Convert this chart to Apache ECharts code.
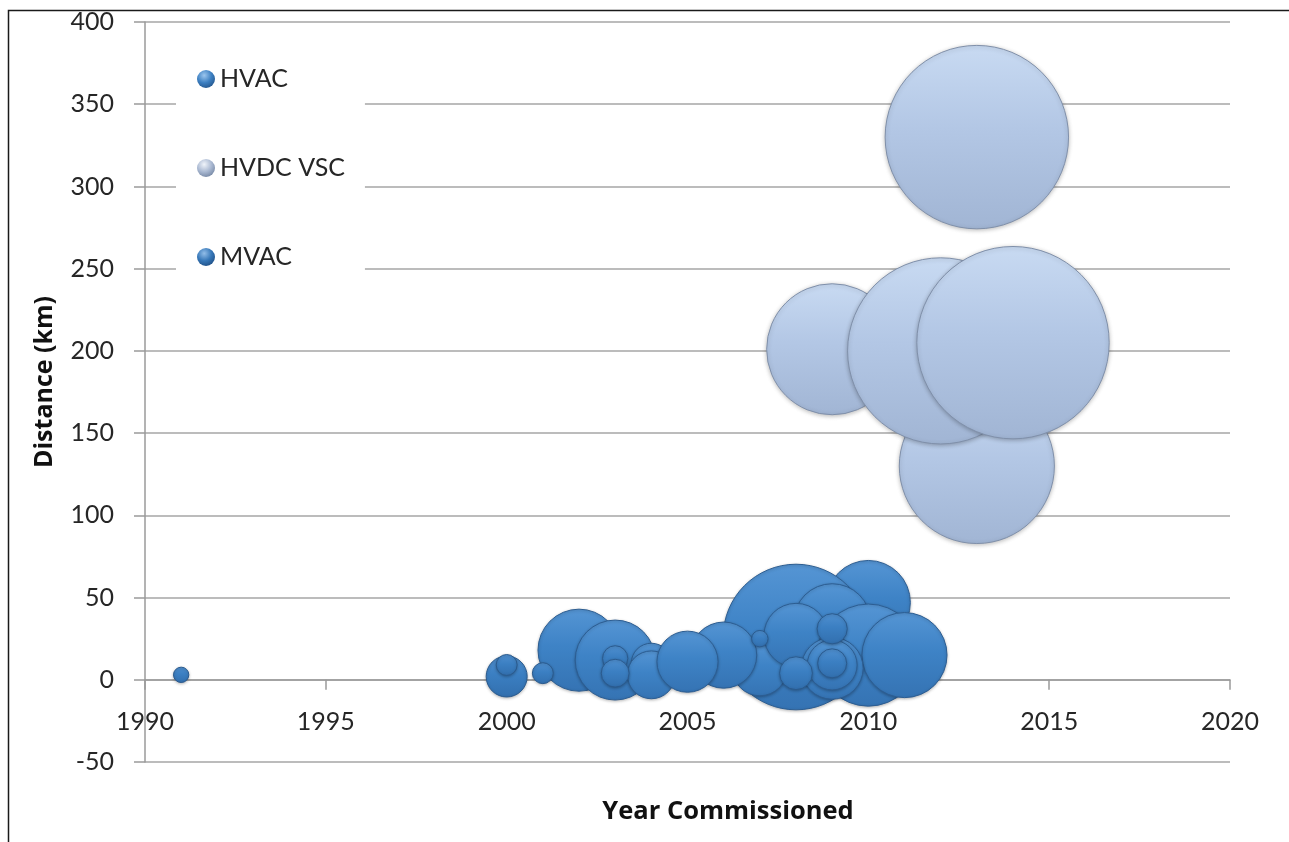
<!DOCTYPE html>
<html>
<head>
<meta charset="utf-8">
<script src="https://cdn.jsdelivr.net/npm/echarts@6/dist/echarts.min.js"></script>
<style>
html,body{margin:0;padding:0;background:#fff;}
#chart{width:1289px;height:842px;}
</style>
</head>
<body>
<div id="chart"></div>
<script>
// ---- data (year commissioned, distance km, capacity MW) ----
const xTicks = [1990, 1995, 2000, 2005, 2010, 2015, 2020];
const yTicks = [-50, 0, 50, 100, 150, 200, 250, 300, 350, 400];

const hvacYear = [2002, 2003, 2004, 2004, 2010, 2008, 2007, 2006, 2005, 2009, 2008, 2010, 2011, 2009, 2009];
const hvacDist = [18, 12, 10, 3, 47, 26, 7, 15, 11, 35, 27, 15, 15, 7, 9];
const hvacCap  = [200, 190, 48, 68, 210, 630, 90, 130, 111, 176, 122, 310, 215, 114, 74];

const vscYear = [2009, 2013, 2012, 2014, 2013];
const vscDist = [201, 130, 200, 205, 330];
const vscCap  = [510, 715, 1030, 1100, 1000];

const mvacYear = [1991, 2000, 2000, 2001, 2003, 2003, 2007, 2008, 2009, 2009];
const mvacDist = [3, 2, 9, 4, 13, 4, 25, 4, 31, 10];
const mvacCap  = [7, 50, 13, 13, 19, 23, 8, 32, 27, 25];

const seriesNames = ['HVAC', 'HVDC VSC', 'MVAC'];
const xTitle = 'Year Commissioned';
const yTitle = 'Distance (km)';

function zip(a, b, c) { return a.map((v, i) => [v, b[i], c[i]]); }

const SIZE_K = 5.8;
const FONT = 'Lato, "Open Sans", sans-serif';
const TFONT = '"Open Sans", Lato, sans-serif';

function lin(c0, c1, c2) {
  return new echarts.graphic.LinearGradient(0, 0, 0, 1, [
    {offset: 0, color: c0}, {offset: 0.45, color: c1}, {offset: 1, color: c2}
  ]);
}
function rad(c0, c1, c2) {
  return new echarts.graphic.RadialGradient(0.4, 0.3, 0.75, [
    {offset: 0, color: c0}, {offset: 0.55, color: c1}, {offset: 1, color: c2}
  ]);
}

const blueStyle = {
  color: lin('#5595d4', '#3e83c6', '#3573b3'), opacity: 1,
  borderColor: '#2c5d92', borderWidth: 1,
  shadowColor: 'rgba(0,0,0,0.25)', shadowBlur: 3, shadowOffsetY: 1
};
const mvStyle = {
  color: lin('#5090d0', '#3b7fc2', '#326fae'), opacity: 1,
  borderColor: '#2a5a8e', borderWidth: 1,
  shadowColor: 'rgba(0,0,0,0.25)', shadowBlur: 3, shadowOffsetY: 1
};
const lightStyle = {
  color: lin('#c8daf2', '#b3c7e5', '#a1b5d4'), opacity: 1,
  borderColor: '#8090aa', borderWidth: 1,
  shadowColor: 'rgba(0,0,0,0.25)', shadowBlur: 4, shadowOffsetY: 1
};

const chart = echarts.init(document.getElementById('chart'), null, {renderer: 'canvas'});

const option = {
  backgroundColor: '#ffffff',
  animation: false,
  grid: {left: 145, top: 22, width: 1085, height: 740, containLabel: false},
  xAxis: {
    type: 'value', min: xTicks[0], max: xTicks[xTicks.length - 1], interval: 5,
    axisLine: {show: true, onZero: true, lineStyle: {color: '#9a9a9a', width: 1.5}},
    axisTick: {show: true, length: 10, lineStyle: {color: '#9a9a9a', width: 1.5}},
    axisLabel: {color: '#262626', fontFamily: FONT, fontSize: 25, margin: -53,
                formatter: v => String(v)},
    splitLine: {show: false}
  },
  yAxis: {
    type: 'value', min: yTicks[0], max: yTicks[yTicks.length - 1], interval: 50,
    axisLine: {show: true, lineStyle: {color: '#9a9a9a', width: 1.5}},
    axisTick: {show: true, length: 11, lineStyle: {color: '#9a9a9a', width: 1.5}},
    axisLabel: {color: '#262626', fontFamily: FONT, fontSize: 25, margin: 31},
    splitLine: {show: true, lineStyle: {color: '#a6a6a6', width: 1.5}}
  },
  legend: {
    show: true,
    orient: 'vertical',
    left: 176, top: 48,
    padding: [16, 20, 16, 21],
    backgroundColor: '#ffffff',
    itemWidth: 18, itemHeight: 18,
    itemGap: 59,
    icon: 'circle',
    textStyle: {fontFamily: FONT, fontSize: 25, color: '#262626', lineHeight: 30},
    data: [
      {name: seriesNames[0], itemStyle: {color: rad('#9cc6ee', '#3c7fc1', '#24568c'), borderWidth: 0, shadowBlur: 0}},
      {name: seriesNames[1], itemStyle: {color: rad('#f0f4fa', '#aab9d2', '#7486a3'), borderWidth: 0, shadowBlur: 0}},
      {name: seriesNames[2], itemStyle: {color: rad('#92bde8', '#3677b8', '#1f4f85'), borderWidth: 0, shadowBlur: 0}}
    ]
  },
  graphic: [
    {type: 'rect', left: 6, top: 8, z: -10, silent: true,
     shape: {width: 1400, height: 1000},
     style: {fill: 'none', stroke: '#1a1a1a', lineWidth: 1.5}},
    {type: 'text', x: 45, y: 382, rotation: Math.PI / 2, silent: true,
     style: {text: yTitle, font: 'bold 25px ' + TFONT, fill: '#111', align: 'center', verticalAlign: 'middle'}},
    {type: 'text', x: 728, y: 812, silent: true,
     style: {text: xTitle, font: 'bold 25.5px ' + TFONT, fill: '#111', align: 'center', verticalAlign: 'middle'}}
  ],
  series: [
    {
      name: seriesNames[0], type: 'scatter',
      data: zip(hvacYear, hvacDist, hvacCap),
      symbolSize: v => SIZE_K * Math.sqrt(v[2]),
      itemStyle: blueStyle, z: 2
    },
    {
      name: seriesNames[1], type: 'scatter',
      data: zip(vscYear, vscDist, vscCap),
      symbolSize: v => SIZE_K * Math.sqrt(v[2]),
      itemStyle: lightStyle, z: 2
    },
    {
      name: seriesNames[2], type: 'scatter',
      data: zip(mvacYear, mvacDist, mvacCap),
      symbolSize: v => SIZE_K * Math.sqrt(v[2]),
      itemStyle: mvStyle, z: 3
    }
  ]
};
chart.setOption(option);
</script>
</body>
</html>
